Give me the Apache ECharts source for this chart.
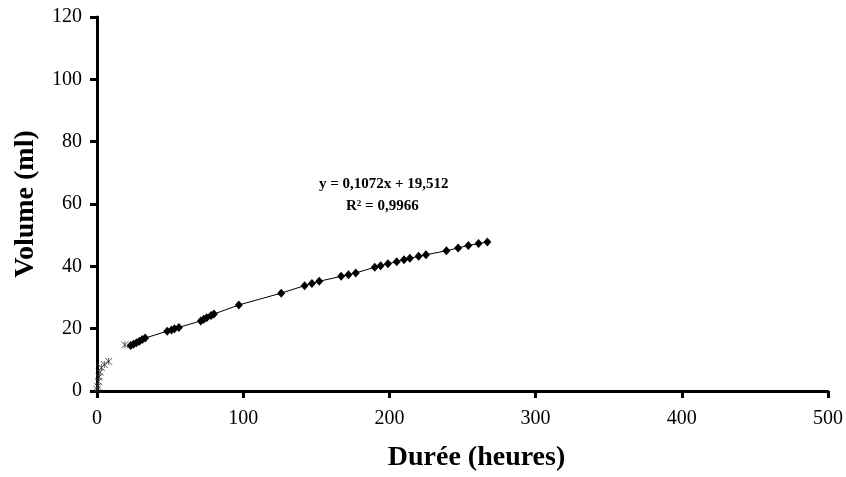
<!DOCTYPE html>
<html>
<head>
<meta charset="utf-8">
<script src="https://cdn.jsdelivr.net/npm/echarts@6/dist/echarts.min.js"></script>
<style>html,body{margin:0;padding:0;background:#fff}#c{width:846px;height:477px}</style>
</head>
<body>
<div id="c"></div>
<script>
// Early measurements (cross markers)
const earlyX = [0, 0.5, 1, 1.5, 2, 3, 5, 8, 19];
const earlyY = [0.5, 1.5, 3, 4.5, 6, 7.5, 8.5, 9.5, 14.8];
// Main series (diamonds joined by a line)
const mainX = [23, 25, 27, 29, 31, 33, 48, 51, 53, 56, 71, 73, 75, 78, 80, 97, 126, 142, 147, 152, 167, 172, 177, 190, 194, 199, 205, 210, 214, 220, 225, 239, 247, 254, 261, 267];
const mainY = [14.6, 15, 15.5, 16, 16.5, 17, 19.2, 19.6, 20, 20.4, 22.5, 23, 23.5, 24.2, 24.7, 27.6, 31.4, 33.8, 34.5, 35.2, 36.8, 37.3, 37.9, 39.7, 40.2, 40.8, 41.5, 42.1, 42.6, 43.2, 43.7, 45, 45.9, 46.7, 47.3, 47.8];
const xTicks = [0, 100, 200, 300, 400, 500];
const yTicks = [0, 20, 40, 60, 80, 100, 120];
const xName = 'Durée (heures)';
const yName = 'Volume (ml)';
const eqLine1 = 'y = 0,1072x + 19,512';
const eqLine2 = 'R² = 0,9966';

const serif = '"Liberation Serif", "DejaVu Serif", serif';
const chart = echarts.init(document.getElementById('c'));
chart.setOption({
  backgroundColor: '#fff',
  animation: false,
  grid: { left: 97, right: 14, top: 17, bottom: 86 },
  xAxis: {
    type: 'value', min: xTicks[0], max: xTicks[xTicks.length - 1], interval: 100,
    name: xName, nameLocation: 'middle', nameGap: 53,
    nameTextStyle: { fontFamily: serif, fontWeight: 'bold', fontSize: 28, color: '#000', padding: [0, 0, 0, 28] },
    axisLine: { show: true, onZero: false, lineStyle: { color: '#000', width: 3 } },
    axisTick: { show: true, length: 7, lineStyle: { color: '#000', width: 3 } },
    axisLabel: { fontFamily: serif, fontSize: 20, color: '#000', margin: 18 },
    splitLine: { show: false }
  },
  yAxis: {
    type: 'value', min: yTicks[0], max: yTicks[yTicks.length - 1], interval: 20,
    name: yName, nameLocation: 'middle', nameGap: 57, nameRotate: 90,
    nameTextStyle: { fontFamily: serif, fontWeight: 'bold', fontSize: 28, color: '#000' },
    axisLine: { show: true, onZero: false, lineStyle: { color: '#000', width: 3 } },
    axisTick: { show: true, length: 7, lineStyle: { color: '#000', width: 3 } },
    axisLabel: { fontFamily: serif, fontSize: 20, color: '#000', margin: 15 },
    splitLine: { show: false }
  },
  series: [
    {
      type: 'scatter',
      data: earlyX.map((x, i) => [x, earlyY[i]]),
      symbol: 'path://M0,0 L10,10 M10,0 L0,10 M5,0 L5,10',
      symbolSize: 7,
      itemStyle: { color: 'none', borderColor: '#333', borderWidth: 1 },
      z: 3
    },
    {
      type: 'line',
      data: mainX.map((x, i) => [x, mainY[i]]),
      symbol: 'diamond',
      symbolSize: [8, 9],
      showSymbol: true,
      lineStyle: { color: '#000', width: 1 },
      itemStyle: { color: '#000' },
      z: 4
    }
  ],
  graphic: [
    { type: 'text', left: 319, top: 177, style: { text: eqLine1, fontFamily: serif, fontWeight: 'bold', fontSize: 15, fill: '#000' } },
    { type: 'text', left: 346, top: 199, style: { text: eqLine2, fontFamily: serif, fontWeight: 'bold', fontSize: 15, fill: '#000' } }
  ]
});
</script>
</body>
</html>
